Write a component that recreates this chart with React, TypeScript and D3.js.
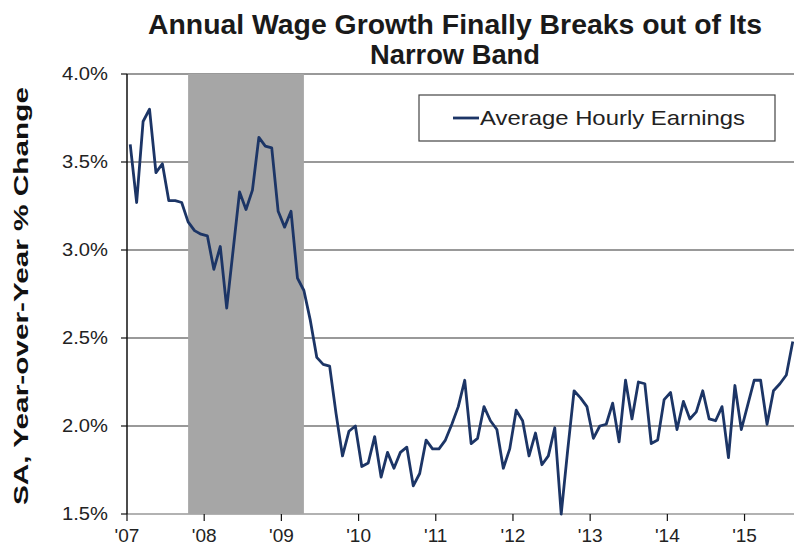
import React from "react";
import * as d3 from "d3";

// Monthly y/y % change in average hourly earnings, Mar 2007 .. Jul 2015
const startMonth = "2007-03";
const earnings: number[] = [
  3.60, 3.27, 3.73, 3.80, 3.44, 3.49, 3.28, 3.28, 3.27, 3.16,
  3.11, 3.09, 3.08, 2.89, 3.02, 2.67, 3.00, 3.33, 3.23, 3.34,
  3.64, 3.59, 3.58, 3.22, 3.13, 3.22, 2.84, 2.77, 2.60, 2.39,
  2.35, 2.34, 2.07, 1.83, 1.97, 2.00, 1.77, 1.79, 1.94, 1.71,
  1.85, 1.76, 1.85, 1.88, 1.66, 1.73, 1.92, 1.87, 1.87, 1.92,
  2.01, 2.11, 2.26, 1.90, 1.93, 2.11, 2.03, 1.98, 1.76, 1.87,
  2.09, 2.03, 1.83, 1.96, 1.78, 1.83, 1.99, 1.50, 1.86, 2.20,
  2.16, 2.11, 1.93, 2.00, 2.01, 2.13, 1.91, 2.26, 2.04, 2.25,
  2.24, 1.90, 1.92, 2.15, 2.19, 1.98, 2.14, 2.04, 2.08, 2.20,
  2.04, 2.03, 2.11, 1.82, 2.23, 1.98, 2.12, 2.26, 2.26, 2.01,
  2.20, 2.24, 2.29, 2.48,
];

// Recession (Dec 2007 – Jun 2009) as month indexes from startMonth
const recessionStart = 9;
const recessionEnd = 27;

const yTicks: number[] = [1.5, 2.0, 2.5, 3.0, 3.5, 4.0];
const xTickLabels: string[] = ["'07", "'08", "'09", "'10", "'11", "'12", "'13", "'14", "'15"];

const titleLines: string[] = ["Annual Wage Growth Finally Breaks out of Its", "Narrow Band"];
const yAxisTitle = "SA, Year-over-Year % Change";
const legendLabel = "Average Hourly Earnings";

export default function App() {
  const W = 794;
  const H = 552;
  const left = 127;
  const right = 796;
  const top = 74;
  const bottom = 514;

  const x = d3.scaleLinear().domain([-0.5, earnings.length - 0.5]).range([left, right]);
  const y = d3.scaleLinear().domain([1.5, 4.0]).range([bottom, top]);

  const line = d3
    .line<number>()
    .x((_, i) => x(i))
    .y((d) => y(d));

  const font = "'Liberation Sans', Arial, sans-serif";
  const lineColor = "#1c3566";
  const titleWidths = [614, 170];

  return (
    <svg
      width={W}
      height={H}
      style={{ position: "absolute", left: 0, top: 0, background: "#fff" }}
      fontFamily={font}
    >
      <rect x={0} y={0} width={W} height={H} fill="#fff" />
      {/* Title */}
      {titleLines.map((t, i) => (
        <text
          key={t}
          x={455}
          y={34 + i * 30}
          textAnchor="middle"
          fontSize={27}
          fontWeight="bold"
          fill="#1a1a1a"
          textLength={titleWidths[i]}
          lengthAdjust="spacingAndGlyphs"
        >
          {t}
        </text>
      ))}

      {/* Gridlines */}
      {yTicks.map((v) => (
        <line
          key={"g" + v}
          x1={left}
          x2={W}
          y1={y(v)}
          y2={y(v)}
          stroke={v === 1.5 ? "#999" : "#777"}
          strokeWidth={1.3}
        />
      ))}

      {/* Recession shading */}
      <rect
        x={x(recessionStart)}
        y={top}
        width={x(recessionEnd) - x(recessionStart)}
        height={bottom - top}
        fill="#a6a6a6"
      />

      {/* Y axis */}
      <line x1={left} x2={left} y1={top} y2={bottom} stroke="#111" strokeWidth={1.5} />
      {yTicks.map((v) => (
        <g key={"yt" + v}>
          <line x1={left - 6} x2={left} y1={y(v)} y2={y(v)} stroke="#111" strokeWidth={1.2} />
          <text
            x={108}
            y={y(v) + 6}
            textAnchor="end"
            fontSize={18}
            fill="#222"
            textLength={46}
            lengthAdjust="spacingAndGlyphs"
          >
            {d3.format(".1f")(v)}%
          </text>
        </g>
      ))}

      {/* X ticks */}
      {xTickLabels.map((lab, k) => {
        const xv = x(k * 12 - 0.5);
        return (
          <g key={lab}>
            <line x1={xv} x2={xv} y1={bottom} y2={bottom + 7} stroke="#111" strokeWidth={1.2} />
            <text x={xv} y={bottom + 28} textAnchor="middle" fontSize={19} fill="#222">
              {lab}
            </text>
          </g>
        );
      })}

      {/* Y axis title */}
      <text
        transform={`translate(28, ${(top + bottom) / 2 + 2}) rotate(-90)`}
        textAnchor="middle"
        fontSize={21}
        fontWeight="bold"
        fill="#111"
        textLength={418}
        lengthAdjust="spacingAndGlyphs"
      >
        {yAxisTitle}
      </text>

      {/* Series line */}
      <path
        d={line(earnings) || ""}
        fill="none"
        stroke={lineColor}
        strokeWidth={2.8}
        strokeLinejoin="round"
      />

      {/* Legend */}
      <rect x={419} y={95} width={356} height={46} fill="#fff" stroke="#444" strokeWidth={1.2} />
      <line x1={453} x2={479} y1={118} y2={118} stroke={lineColor} strokeWidth={2.8} />
      <text
        x={480}
        y={125}
        fontSize={21}
        fill="#222"
        textLength={265}
        lengthAdjust="spacingAndGlyphs"
      >
        {legendLabel}
      </text>
    </svg>
  );
}
